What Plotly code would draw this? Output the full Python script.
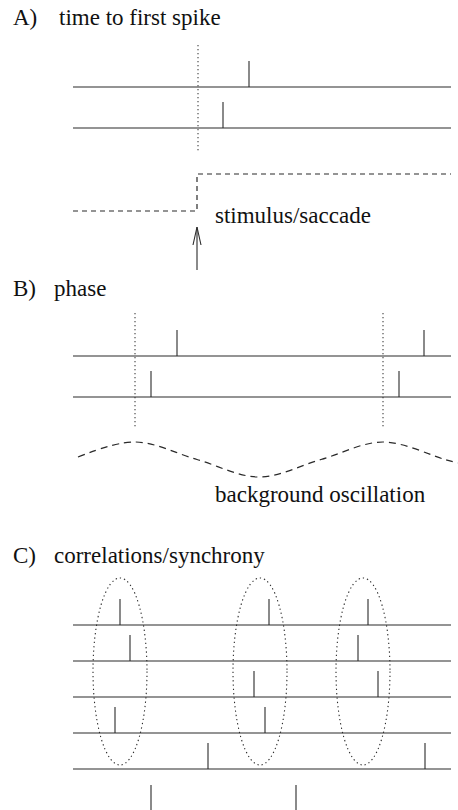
import plotly.graph_objects as go

# ---------------- data (figure units: x = horizontal position, y = vertical position, top = 0) ----
TRACE_START, TRACE_END = 73, 451
SPIKE_H = 26

# Panel A: time to first spike
A_trace_y = [87, 128]
A_spike_x = [249, 223]
A_stim_x = 197
A_dotted_y = [45, 152]
A_step_low_y, A_step_high_y = 211, 174
A_arrow_y = [227, 270]

# Panel B: phase
B_trace_y = [356, 397]
B_spike_x = [[177, 424], [151, 399]]
B_peak_x = [135, 383]
B_dotted_y = [313, 427]
B_osc_x = [78, 135, 197, 259, 321, 383, 445, 458]
B_osc_y = [457, 442, 459.5, 477, 459.5, 442, 459.5, 463]

# Panel C: correlations / synchrony
C_trace_y = [625, 661, 697, 733, 769, 811]
C_spike_x = [[120, 269, 368], [130, 358], [254, 378], [115, 265], [208, 425], [151, 296]]
C_group_x = [120, 260, 363]
C_group_rx, C_group_y = 27, [578, 765]

titles = [("A)", "time to first spike", 17, 57), ("B)", "phase", 288, 52), ("C)", "correlations/synchrony", 555, 52)]
labels = [("stimulus/saccade", 213, 215), ("background oscillation", 213, 494)]

INK = "#2a2a2a"
FONT = "Liberation Serif, Times New Roman, Times, DejaVu Serif, serif"
FSIZE = 23

fig = go.Figure()


def add_line(xs, ys, dash="solid", width=1.1, color=INK, shape="linear"):
    fig.add_trace(go.Scatter(x=xs, y=ys, mode="lines", hoverinfo="skip", showlegend=False,
                             line=dict(color=color, width=width, dash=dash, shape=shape)))


def raster(trace_ys, spikes):
    xs, ys = [], []
    for ty, sx in zip(trace_ys, spikes):
        xs += [TRACE_START, TRACE_END, None]
        ys += [ty, ty, None]
        for s in sx:
            xs += [s, s, None]
            ys += [ty, ty - SPIKE_H, None]
    add_line(xs, ys)


# Panel A
raster(A_trace_y, [[s] for s in A_spike_x])
add_line([A_stim_x + 1, A_stim_x + 1], A_dotted_y, dash="1.3px,2.7px", width=1)
add_line([TRACE_START, A_stim_x, A_stim_x, A_stim_x + 3, TRACE_END],
         [A_step_low_y, A_step_low_y, A_step_high_y, A_step_high_y, A_step_high_y],
         dash="5px,4px", width=1.2)
add_line([A_stim_x, A_stim_x], A_arrow_y, width=1.1)
add_line([A_stim_x - 4, A_stim_x, A_stim_x + 4],
         [A_arrow_y[0] + 18, A_arrow_y[0], A_arrow_y[0] + 18], width=1.1)

# Panel B
raster(B_trace_y, B_spike_x)
for px in B_peak_x:
    add_line([px, px], B_dotted_y, dash="1.3px,2.7px", width=1)
add_line(B_osc_x, B_osc_y, dash="7px,5px", width=1.2, shape="spline")

# Panel C
raster(C_trace_y, C_spike_x)
for cx in C_group_x:
    fig.add_shape(type="circle", xref="x", yref="y",
                  x0=cx - C_group_rx, x1=cx + C_group_rx, y0=C_group_y[0], y1=C_group_y[1],
                  line=dict(color=INK, width=1.1, dash="1.3px,3px"))

for tag, text, y, x in titles:
    fig.add_annotation(x=11, y=y, text=tag, showarrow=False, xanchor="left", yanchor="middle",
                       font=dict(family=FONT, size=FSIZE, color="#111"))
    fig.add_annotation(x=x, y=y, text=text, showarrow=False, xanchor="left", yanchor="middle",
                       font=dict(family=FONT, size=FSIZE, color="#111"))
for text, x, y in labels:
    fig.add_annotation(x=x, y=y, text=text, showarrow=False, xanchor="left", yanchor="middle",
                       font=dict(family=FONT, size=FSIZE, color="#111"))

fig.update_layout(width=458, height=810, margin=dict(l=0, r=0, t=0, b=0),
                  paper_bgcolor="white", plot_bgcolor="white")
fig.update_xaxes(range=[0, 458], visible=False, fixedrange=True)
fig.update_yaxes(range=[810, 0], visible=False, fixedrange=True)

fig.write_html("out.html", config={"displayModeBar": False},
               post_script="document.body.style.margin='0px';document.body.style.overflow='hidden';")
